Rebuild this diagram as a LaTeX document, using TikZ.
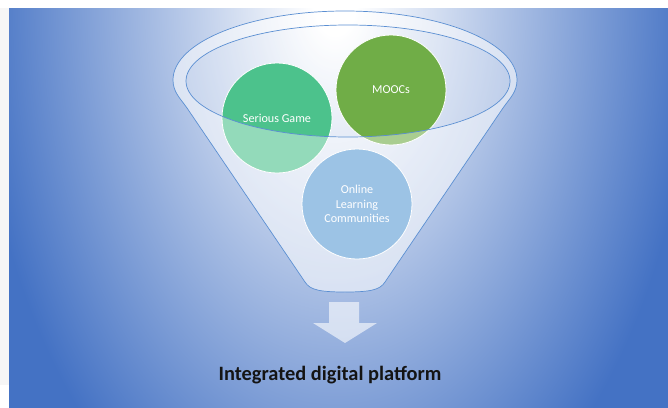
\documentclass[tikz,border=0pt]{standalone}
\usepackage{fontspec}
\setmainfont{Carlito}
\definecolor{bgblue}{HTML}{4472C4}
\definecolor{rimblue}{HTML}{5B8FD2}
\definecolor{gamegreen}{HTML}{4CC28C}
\definecolor{moocgreen}{HTML}{70AD47}
\definecolor{commblue}{HTML}{5B9BD5}
\definecolor{sidegray}{HTML}{F6F6F6}
% light at the middle, full blue at half of the shaded ellipse
\pgfdeclareradialshading{backdrop}{\pgfpoint{0bp}{0bp}}{%
  color(0bp)=(white); color(0.75bp)=(white); color(12.5bp)=(bgblue); color(50bp)=(bgblue)}
\begin{document}
\begin{tikzpicture}[x=0.04cm,y=-0.04cm,
  funnelshape/.style={insert path={
    (173,80) arc[start angle=180,end angle=360,x radius=172,y radius=69]
    .. controls (517,92) and (510,98) .. (503,108)
    -- (385,282)
    .. controls (380,290) and (370,292) .. (345,292)
    .. controls (320,292) and (310,290) .. (305,282)
    -- (187,108)
    .. controls (180,98) and (173,92) .. (173,80) -- cycle}},
  mouth/.style={insert path={(348,81) ellipse[x radius=162,y radius=56]}},
  bubble/.style={circle,minimum size=4.4cm,inner sep=0pt,draw=white,
    line width=0.9pt,text=white,align=center,font=\fontsize{13.8}{16.5}\selectfont},
  title/.style={anchor=base,text=black!92,font=\fontsize{23.2}{28}\selectfont\bfseries}]
\useasboundingbox (0,0) rectangle (668,407);
% page margin and shaded backdrop
\fill[white] (0,0) rectangle (668,407);
\fill[sidegray] (0,8) rectangle (9,385);
\begin{scope}
  \clip (9,8) rectangle (668,407);
  \shade[shading=backdrop] (335,0) ellipse[x radius=720,y radius=1170];
\end{scope}
% funnel glass behind the items
\path[fill=white,fill opacity=0.28,funnelshape];
% the three items
\node[bubble,fill=gamegreen] (game) at (277,118) {Serious Game};
\node[bubble,fill=moocgreen] (mooc) at (391,90) {MOOCs};
\node[bubble,fill=commblue] (comm) at (357,204) {Online\\Learning\\Communities};
% funnel glass in front, open at the mouth
\path[fill=white,fill opacity=0.4,even odd rule,funnelshape,mouth];
\draw[rimblue,line width=0.8pt,funnelshape];
\draw[rimblue,line width=0.8pt,mouth];
% block arrow and result
\fill[white,fill opacity=0.6] (329,302) -- (359,302) -- (359,323) -- (377,323)
  -- (345,343) -- (313,323) -- (329,323) -- cycle;
\node[title] (platform) at (330,380) {Integrated digital platform};
\end{tikzpicture}
\end{document}
